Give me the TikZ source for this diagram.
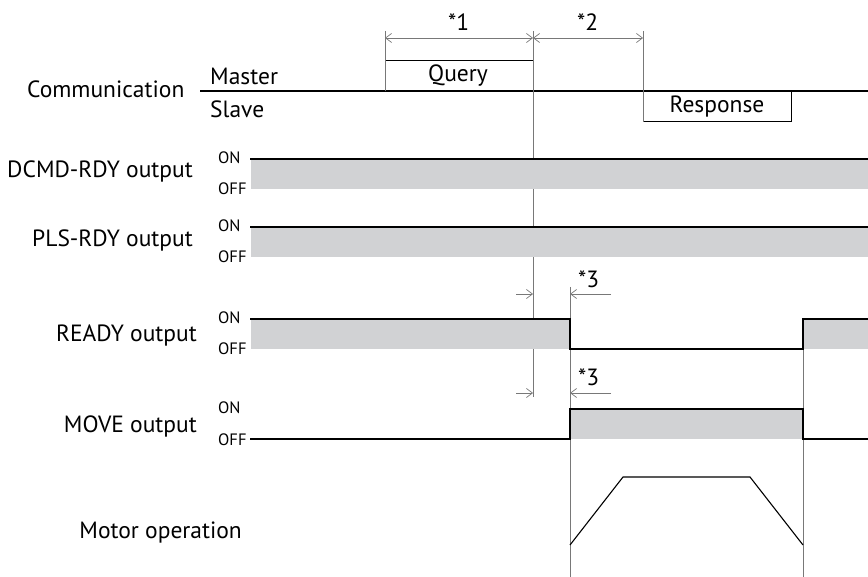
\documentclass[tikz,border=0pt]{standalone}
\usepackage{fontspec}
\setmainfont{PT Sans}
\usetikzlibrary{arrows.meta}
\definecolor{fillgray}{RGB}{209,210,212}
\definecolor{guide}{RGB}{120,120,120}
\tikzset{
  sigline/.style={line width=1.4pt, black, line join=miter},
  sigfill/.style={fill=fillgray},
  guideline/.style={line width=0.9pt, guide},
  dimline/.style={line width=0.9pt, guide, arrows={Straight Barb[length=6pt,width=9pt,line width=0.7pt]-Straight Barb[length=6pt,width=9pt,line width=0.7pt]}},
  dimarrow/.style={line width=0.9pt, guide, -{Straight Barb[length=6pt,width=9pt,line width=0.7pt]}},
  biglabel/.style={font=\fontsize{23.5}{28}\selectfont, inner sep=0pt},
  smalllabel/.style={font=\fontsize{16.5}{20}\selectfont, inner sep=0pt, anchor=base west},
}
\begin{document}
\begin{tikzpicture}[x=1pt,y=-1pt]
\useasboundingbox (0,0) rectangle (868,577);

% ---- Communication ----
\draw[sigline, line width=1.2pt] (200,91) -- (868,91);
\node[draw, line width=1.2pt, minimum width=148pt, minimum height=30pt, anchor=south west, inner sep=0pt] (query) at (385,91) {};
\node[draw, line width=1.2pt, minimum width=148pt, minimum height=30pt, anchor=north west, inner sep=0pt] (resp) at (643,91) {};
\node[biglabel, anchor=base] (qt) at (458,82) {Query};
\node[biglabel, anchor=base] (rt) at (717,113) {Response};
\node[biglabel, anchor=base west] (comm) at (27,98) {Communication};
\node[biglabel, anchor=base west] (master) at (210,85) {Master};
\node[biglabel, anchor=base west] (slave) at (210,118) {Slave};

% ---- guides ----
\coordinate (g1t) at (385,31);
\coordinate (g2t) at (533,31);
\coordinate (g3t) at (643,31);
\coordinate (g2b) at (533,397);
\draw[guideline] (g1t) -- (query.south west);
\draw[guideline] (g2t) -- (g2b);
\draw[guideline] (g3t) -- (resp.south west);
\coordinate (g4t) at (570,287);
\coordinate (g4b) at (570,577);
\coordinate (g5t) at (803,320);
\coordinate (g5b) at (803,577);
\draw[guideline] (g4t) -- (g4b);
\draw[guideline] (g5t) -- (g5b);

% dimension *1 *2
\coordinate (d1) at (385,38);
\coordinate (d2) at (533,38);
\coordinate (d3) at (643,38);
\draw[dimline] (d1) -- (d2);
\draw[dimline] (d2) -- (d3);
\node[biglabel, anchor=base west] (s1) at (448,31) {*1};
\node[biglabel, anchor=base west] (s2) at (577,31) {*2};

% dimension *3 (two)
\coordinate (a1l) at (516,294);
\coordinate (a1m) at (533,294);
\coordinate (a1n) at (570,294);
\coordinate (a1r) at (611,294);
\draw[dimarrow] (a1l) -- (a1m);
\draw[dimarrow] (a1r) -- (a1n);
\node[biglabel, anchor=base west] (s3a) at (578,288) {*3};
\coordinate (a2l) at (516,393);
\coordinate (a2m) at (533,393);
\coordinate (a2n) at (570,393);
\coordinate (a2r) at (611,393);
\draw[dimarrow] (a2l) -- (a2m);
\draw[dimarrow] (a2r) -- (a2n);
\node[biglabel, anchor=base west] (s3b) at (578,385) {*3};

% ---- DCMD-RDY ----
\fill[sigfill] (251,159) rectangle (868,189);
\draw[sigline] (250,159) -- (868,159);
\node[biglabel, anchor=base east] (dcmd) at (193,178) {DCMD-RDY output};
\node[smalllabel] (on1) at (218,163.5) {ON};
\node[smalllabel] (off1) at (218,195) {OFF};

% ---- PLS-RDY ----
\fill[sigfill] (251,227) rectangle (868,257);
\draw[sigline] (250,227) -- (868,227);
\node[biglabel, anchor=base east] (pls) at (193,247) {PLS-RDY output};
\node[smalllabel] (on2) at (218,231.5) {ON};
\node[smalllabel] (off2) at (218,263) {OFF};

% ---- READY ----
\fill[sigfill] (251,319) rectangle (570,349);
\fill[sigfill] (803,319) rectangle (868,349);
\draw[sigline] (250,319) -- (570,319) -- (570,349) -- (803,349) -- (803,319) -- (868,319);
\node[biglabel, anchor=base east] (ready) at (197,342) {READY output};
\node[smalllabel] (on3) at (218,323.5) {ON};
\node[smalllabel] (off3) at (218,355) {OFF};

% ---- MOVE ----
\fill[sigfill] (570,409) rectangle (803,439);
\draw[sigline] (250,439) -- (570,439) -- (570,409) -- (803,409) -- (803,439) -- (868,439);
\node[biglabel, anchor=base east] (move) at (197,432) {MOVE output};
\node[smalllabel] (on4) at (218,413.5) {ON};
\node[smalllabel] (off4) at (218,445) {OFF};

% ---- Motor ----
\draw[line width=1.1pt, black, line join=miter] (570,545) -- (623,477) -- (750,477) -- (803,545);
\node[biglabel, anchor=base east] (motor) at (242,538) {Motor operation};
\end{tikzpicture}
\end{document}
